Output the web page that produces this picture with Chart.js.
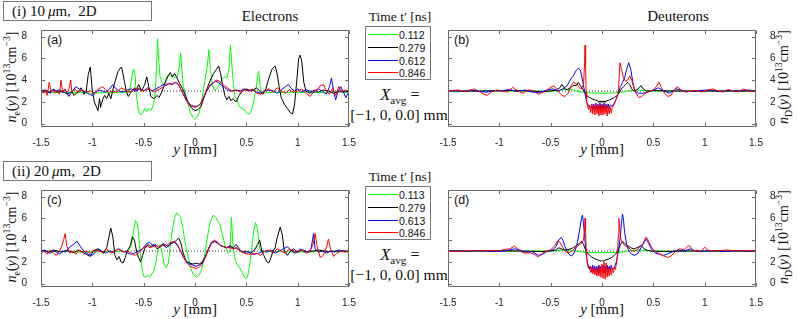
<!DOCTYPE html>
<html>
<head>
<meta charset="utf-8">
<script src="https://cdn.jsdelivr.net/npm/chart.js@4.4.1/dist/chart.umd.min.js"></script>
<style>
body{margin:0;width:797px;height:319px;background:#fff;position:relative;overflow:hidden;font-family:"Liberation Serif",serif;color:#111}
.a{position:absolute;white-space:nowrap;line-height:1}
canvas{position:absolute}
.box{position:absolute;border:1px solid #777;box-sizing:border-box;background:#fff}
.ttl{font-size:15px;transform:translate(-50%,-50%)}
.rot{font-size:14px;transform:translate(-50%,-50%) rotate(-90deg)}
.pl{font-family:"Liberation Sans",sans-serif;font-size:12.5px}
sub,sup{font-size:70%;line-height:0}
.lg{position:absolute;left:2px;width:30px;height:1px}
.lt{position:absolute;left:33px;font-family:"Liberation Sans",sans-serif;font-size:10.5px;line-height:1;transform:translateY(-50%)}
</style>
</head>
<body>
<!-- row 1 -->
<div class="box" style="left:3px;top:1px;width:149px;height:20px"></div>
<div class="a" style="left:12px;top:4px;font-size:15px">(i) 10&#8201;<i>μ</i>m,&nbsp; 2D</div>
<div class="a ttl" style="left:270px;top:16px">Electrons</div>
<div class="a ttl" style="left:678px;top:16px">Deuterons</div>
<div class="a ttl" style="left:400px;top:17px;font-size:13.5px">Time t′ [ns]</div>
<div class="box" id="leg1" style="left:365px;top:26px;width:66px;height:54px"></div>
<div class="a ttl" style="left:400px;top:95px;font-size:16px"><i>X</i><sub>avg</sub> =</div>
<div class="a ttl" style="left:399px;top:115px;font-size:15.5px">[−1, 0, 0.0] mm</div>
<div class="a pl" style="left:47px;top:34px">(a)</div>
<div class="a pl" style="left:454px;top:34px">(b)</div>
<div class="a ttl" style="left:195px;top:149px"><i>y</i> [mm]</div>
<div class="a ttl" style="left:602px;top:149px"><i>y</i> [mm]</div>
<div class="a rot" style="left:12px;top:77px"><i>n</i><sub>e</sub>(<i>y</i>) [10<sup>13</sup>cm<sup>−3</sup>]</div>
<div class="a rot" style="left:784px;top:77px"><i>n</i><sub>D</sub>(<i>y</i>) [10<sup>13</sup>cm<sup>−3</sup>]</div>
<!-- row 2 -->
<div class="box" style="left:3px;top:161px;width:149px;height:20px"></div>
<div class="a" style="left:12px;top:164px;font-size:15px">(ii) 20&#8201;<i>μ</i>m,&nbsp; 2D</div>
<div class="a ttl" style="left:400px;top:177px;font-size:13.5px">Time t′ [ns]</div>
<div class="box" id="leg2" style="left:365px;top:186px;width:66px;height:54px"></div>
<div class="a ttl" style="left:400px;top:255px;font-size:16px"><i>X</i><sub>avg</sub> =</div>
<div class="a ttl" style="left:399px;top:275px;font-size:15.5px">[−1, 0, 0.0] mm</div>
<div class="a pl" style="left:47px;top:194px">(c)</div>
<div class="a pl" style="left:454px;top:194px">(d)</div>
<div class="a ttl" style="left:195px;top:309px"><i>y</i> [mm]</div>
<div class="a ttl" style="left:602px;top:309px"><i>y</i> [mm]</div>
<div class="a rot" style="left:12px;top:237px"><i>n</i><sub>e</sub>(<i>y</i>) [10<sup>13</sup>cm<sup>−3</sup>]</div>
<div class="a rot" style="left:784px;top:237px"><i>n</i><sub>D</sub>(<i>y</i>) [10<sup>13</sup>cm<sup>−3</sup>]</div>

<canvas id="pa" width="350" height="131" style="left:11px;top:18px"></canvas>
<canvas id="pb" width="350" height="131" style="left:436px;top:18px"></canvas>
<canvas id="pc" width="350" height="131" style="left:11px;top:178px"></canvas>
<canvas id="pd" width="350" height="131" style="left:436px;top:178px"></canvas>

<script>
const xTicks = [-1.5, -1, -0.5, 0, 0.5, 1, 1.5];
const yTicks = [0, 2, 4, 6, 8];
const times1 = ['0.112', '0.279', '0.612', '0.846'];
const times2 = ['0.113', '0.279', '0.613', '0.846'];
const colors = ['#00ff00', '#000000', '#0000ff', '#ff0000'];
const refLine = [[-1.5, 3], [1.5, 3]];

// (a) electrons, 10 um
const aGreen = [[-1.5,2.9],[-1.4,2.85],[-1.3,2.9],[-1.2,2.85],[-1.1,2.85],[-1.0,2.8],[-0.9,2.85],[-0.8,2.85],[-0.7,2.9],[-0.64,2.9],[-0.62,4.0],[-0.60,5.0],[-0.585,4.6],[-0.57,2.5],[-0.55,1.2],[-0.53,0.8],[-0.51,1.0],[-0.49,1.4],[-0.47,1.1],[-0.45,1.4],[-0.43,1.2],[-0.41,1.6],[-0.39,2.5],[-0.375,5.0],[-0.365,7.8],[-0.355,6.0],[-0.34,4.3],[-0.32,3.8],[-0.30,3.5],[-0.28,4.2],[-0.26,4.5],[-0.24,4.3],[-0.22,4.4],[-0.20,4.2],[-0.17,4.3],[-0.15,5.5],[-0.14,6.5],[-0.13,5.3],[-0.115,3.5],[-0.10,3.0],[-0.08,2.2],[-0.06,1.5],[-0.04,0.9],[-0.02,0.6],[0,0.4],[0.02,0.6],[0.04,1.0],[0.06,1.8],[0.08,3.0],[0.10,4.2],[0.12,5.3],[0.135,6.8],[0.15,5.0],[0.17,3.5],[0.19,3.1],[0.21,3.2],[0.23,3.5],[0.26,4.0],[0.29,4.3],[0.31,4.2],[0.33,5.0],[0.345,7.2],[0.36,5.3],[0.375,3.5],[0.39,2.5],[0.41,2.2],[0.43,1.6],[0.46,1.4],[0.49,1.2],[0.51,0.9],[0.53,0.9],[0.55,1.2],[0.57,2.0],[0.59,3.0],[0.61,4.3],[0.62,4.8],[0.635,3.5],[0.65,2.8],[0.7,2.85],[0.8,2.9],[0.9,2.85],[1.0,2.85],[1.1,2.9],[1.2,2.85],[1.35,2.9],[1.5,2.9]];
const aBlack = [[-1.5,3.0],[-1.46,3.1],[-1.42,2.9],[-1.38,3.1],[-1.34,2.9],[-1.3,3.0],[-1.26,2.8],[-1.24,2.7],[-1.2,3.0],[-1.18,2.6],[-1.14,2.9],[-1.11,3.3],[-1.08,2.7],[-1.06,3.0],[-1.04,4.5],[-1.02,5.2],[-1.0,3.0],[-0.98,2.0],[-0.945,1.2],[-0.93,2.3],[-0.92,1.5],[-0.9,2.2],[-0.88,2.6],[-0.86,2.3],[-0.84,2.8],[-0.82,2.3],[-0.79,3.5],[-0.75,4.8],[-0.72,5.2],[-0.71,5.0],[-0.69,4.0],[-0.67,3.0],[-0.65,2.5],[-0.63,2.8],[-0.61,3.0],[-0.59,3.3],[-0.57,3.0],[-0.55,3.6],[-0.52,3.0],[-0.49,3.6],[-0.47,4.3],[-0.45,3.4],[-0.43,2.5],[-0.4,2.3],[-0.37,2.6],[-0.35,2.4],[-0.32,3.0],[-0.29,3.8],[-0.26,4.4],[-0.24,4.7],[-0.22,4.3],[-0.2,4.6],[-0.18,4.3],[-0.15,3.7],[-0.12,3.2],[-0.09,2.5],[-0.06,1.8],[-0.03,1.4],[0,1.2],[0.03,1.3],[0.06,1.6],[0.09,2.5],[0.12,3.3],[0.15,4.0],[0.18,4.6],[0.21,5.0],[0.23,5.3],[0.25,4.6],[0.27,3.5],[0.29,2.6],[0.31,2.2],[0.33,2.5],[0.35,2.1],[0.37,2.3],[0.4,2.0],[0.43,2.6],[0.46,3.0],[0.5,3.2],[0.55,3.0],[0.6,3.3],[0.63,3.0],[0.66,2.7],[0.69,3.2],[0.72,4.2],[0.75,5.0],[0.78,5.3],[0.8,4.6],[0.82,3.4],[0.84,2.4],[0.87,1.8],[0.9,1.4],[0.93,1.0],[0.95,0.9],[0.97,1.8],[0.99,3.8],[1.01,6.0],[1.025,6.3],[1.04,5.7],[1.06,3.8],[1.08,3.0],[1.12,2.8],[1.16,3.1],[1.2,2.9],[1.25,3.1],[1.3,3.0],[1.35,2.8],[1.4,3.0],[1.45,2.9],[1.5,3.0]];
const aBlue = [[-1.5,3.1],[-1.47,2.9],[-1.44,3.0],[-1.41,2.8],[-1.38,3.2],[-1.35,3.0],[-1.32,3.1],[-1.29,2.9],[-1.26,3.1],[-1.23,2.5],[-1.2,2.9],[-1.16,3.4],[-1.13,3.2],[-1.1,3.0],[-1.06,2.9],[-1.03,2.7],[-1.0,2.6],[-0.97,2.8],[-0.94,3.1],[-0.9,3.0],[-0.87,2.9],[-0.83,3.2],[-0.8,3.6],[-0.77,3.2],[-0.74,3.0],[-0.7,2.9],[-0.66,3.1],[-0.62,3.2],[-0.58,3.0],[-0.54,3.2],[-0.5,3.0],[-0.46,3.3],[-0.42,3.0],[-0.38,3.2],[-0.34,3.4],[-0.31,3.6],[-0.28,3.5],[-0.25,3.7],[-0.22,3.6],[-0.19,3.8],[-0.16,3.6],[-0.13,3.0],[-0.1,2.5],[-0.07,2.0],[-0.04,1.7],[-0.01,1.6],[0.02,1.6],[0.05,1.8],[0.08,2.3],[0.11,2.9],[0.14,3.4],[0.17,3.7],[0.2,3.9],[0.23,3.8],[0.26,3.5],[0.29,3.3],[0.32,3.1],[0.36,3.0],[0.4,3.1],[0.44,3.0],[0.48,3.2],[0.52,3.0],[0.56,3.1],[0.6,2.9],[0.64,2.8],[0.68,3.0],[0.72,3.1],[0.76,3.0],[0.8,2.8],[0.84,3.1],[0.88,3.4],[0.91,3.6],[0.94,3.2],[0.97,3.0],[1.0,3.2],[1.04,2.9],[1.08,3.1],[1.12,3.0],[1.16,2.9],[1.2,3.2],[1.24,3.0],[1.28,2.7],[1.31,3.4],[1.33,4.2],[1.35,3.0],[1.37,2.2],[1.39,2.9],[1.42,3.4],[1.45,2.8],[1.47,2.4],[1.5,3.0]];
const aRed = [[-1.5,3.0],[-1.48,2.8],[-1.46,3.1],[-1.44,2.6],[-1.42,3.8],[-1.40,2.9],[-1.38,3.1],[-1.36,2.8],[-1.34,3.0],[-1.32,2.7],[-1.305,4.0],[-1.29,2.9],[-1.27,3.2],[-1.25,2.9],[-1.23,3.1],[-1.21,4.0],[-1.20,2.9],[-1.17,3.2],[-1.14,2.9],[-1.1,3.1],[-1.06,2.9],[-1.02,3.0],[-0.98,2.8],[-0.94,3.2],[-0.9,3.4],[-0.87,3.1],[-0.84,2.9],[-0.8,3.0],[-0.76,2.9],[-0.72,3.3],[-0.68,3.1],[-0.64,2.9],[-0.6,3.1],[-0.56,3.3],[-0.52,3.0],[-0.48,3.1],[-0.44,3.2],[-0.4,2.9],[-0.36,3.1],[-0.32,3.3],[-0.29,3.6],[-0.26,3.7],[-0.23,3.6],[-0.2,3.8],[-0.17,3.7],[-0.15,3.4],[-0.12,2.8],[-0.09,2.2],[-0.06,1.8],[-0.03,1.6],[0,1.5],[0.03,1.6],[0.06,1.9],[0.09,2.6],[0.12,3.2],[0.15,3.6],[0.18,3.8],[0.21,4.0],[0.24,3.9],[0.27,3.6],[0.3,3.4],[0.33,3.2],[0.36,3.0],[0.4,3.1],[0.44,2.9],[0.48,3.1],[0.52,3.0],[0.56,3.2],[0.6,2.8],[0.64,2.7],[0.68,3.0],[0.72,3.2],[0.76,2.9],[0.8,3.3],[0.84,3.0],[0.88,2.8],[0.92,3.1],[0.96,2.9],[1.0,3.0],[1.04,3.2],[1.08,2.8],[1.12,2.5],[1.16,3.0],[1.2,3.2],[1.22,3.5],[1.25,3.6],[1.28,3.0],[1.31,2.7],[1.34,3.3],[1.37,2.6],[1.4,3.4],[1.43,2.9],[1.46,3.1],[1.5,3.0]];

// (b) deuterons, 10 um
const bGreen = [[-1.5,3.0],[-1.0,3.0],[-0.6,3.0],[-0.5,2.95],[-0.42,3.05],[-0.36,3.15],[-0.32,3.2],[-0.28,3.1],[-0.24,3.0],[-0.2,2.9],[-0.15,2.85],[-0.1,2.82],[0,2.8],[0.1,2.82],[0.15,2.85],[0.2,2.9],[0.25,3.0],[0.3,3.05],[0.35,3.1],[0.4,3.05],[0.5,3.0],[1.0,3.0],[1.5,3.0]];
const bBlack = [[-1.5,3.0],[-1.2,3.0],[-0.9,3.05],[-0.7,3.0],[-0.6,2.95],[-0.5,3.0],[-0.45,3.1],[-0.41,3.3],[-0.39,3.6],[-0.37,3.3],[-0.34,3.1],[-0.31,3.3],[-0.28,3.5],[-0.25,3.5],[-0.23,3.8],[-0.21,3.5],[-0.19,3.2],[-0.17,2.9],[-0.15,2.6],[-0.12,2.4],[-0.09,2.25],[-0.06,2.15],[-0.04,2.1],[-0.03,1.95],[-0.02,2.1],[-0.01,1.95],[0,2.1],[0.01,1.95],[0.02,2.1],[0.03,1.95],[0.04,2.1],[0.06,2.15],[0.09,2.25],[0.12,2.4],[0.15,2.6],[0.17,2.9],[0.19,3.2],[0.21,3.4],[0.23,3.6],[0.25,3.8],[0.27,3.6],[0.29,3.2],[0.31,3.0],[0.34,3.1],[0.36,3.3],[0.38,3.5],[0.40,3.2],[0.43,3.0],[0.5,3.05],[0.7,3.0],[1.0,3.0],[1.5,3.0]];
const bBlue = [[-1.5,3.0],[-1.42,3.05],[-1.35,2.95],[-1.28,3.1],[-1.2,2.95],[-1.12,2.9],[-1.05,3.05],[-0.98,3.0],[-0.9,3.15],[-0.83,2.95],[-0.75,3.1],[-0.68,2.9],[-0.62,2.85],[-0.55,3.05],[-0.48,3.2],[-0.43,3.0],[-0.38,3.2],[-0.34,3.5],[-0.31,4.0],[-0.28,4.4],[-0.25,4.9],[-0.23,5.1],[-0.21,4.9],[-0.19,4.0],[-0.17,3.0],[-0.15,2.0],[-0.13,1.6],[-0.11,1.4],[-0.1,1.8],[-0.09,1.3],[-0.08,1.8],[-0.07,1.3],[-0.06,1.9],[-0.05,1.2],[-0.04,1.8],[-0.03,1.3],[-0.02,1.9],[-0.01,1.3],[0,1.8],[0.01,1.3],[0.02,1.9],[0.03,1.3],[0.04,1.8],[0.05,1.4],[0.06,1.8],[0.07,1.4],[0.08,1.7],[0.1,1.6],[0.12,1.9],[0.14,2.3],[0.16,2.9],[0.18,3.4],[0.2,3.8],[0.22,4.2],[0.24,5.0],[0.26,5.6],[0.28,5.0],[0.3,3.8],[0.32,3.0],[0.35,2.8],[0.4,2.8],[0.45,2.9],[0.5,3.1],[0.55,3.3],[0.6,3.0],[0.66,2.8],[0.72,3.2],[0.8,3.0],[0.88,2.95],[0.95,3.05],[1.05,3.1],[1.15,2.95],[1.25,3.05],[1.35,3.0],[1.42,3.1],[1.5,3.0]];
const bRed = [[-1.5,3.0],[-1.45,3.05],[-1.4,3.1],[-1.35,2.95],[-1.3,3.0],[-1.25,3.2],[-1.2,3.0],[-1.15,2.7],[-1.12,2.6],[-1.08,2.9],[-1.02,3.1],[-0.97,3.0],[-0.92,2.9],[-0.87,3.35],[-0.82,3.0],[-0.77,2.8],[-0.72,3.1],[-0.67,3.05],[-0.62,2.7],[-0.57,2.9],[-0.52,3.2],[-0.47,3.5],[-0.43,3.0],[-0.39,2.6],[-0.36,2.5],[-0.33,2.8],[-0.3,3.5],[-0.28,3.8],[-0.26,3.7],[-0.24,3.6],[-0.22,3.3],[-0.2,3.2],[-0.18,3.6],[-0.17,5.5],[-0.165,7.2],[-0.16,5.5],[-0.155,3.0],[-0.15,2.0],[-0.14,1.6],[-0.13,1.3],[-0.12,1.7],[-0.11,1.0],[-0.1,1.8],[-0.09,0.9],[-0.08,1.7],[-0.07,0.8],[-0.06,1.8],[-0.05,0.9],[-0.04,1.7],[-0.03,0.7],[-0.02,1.8],[-0.01,0.8],[0,1.7],[0.01,0.8],[0.02,1.8],[0.03,0.9],[0.04,1.7],[0.05,0.7],[0.06,1.6],[0.07,0.9],[0.08,1.5],[0.09,1.0],[0.1,1.5],[0.12,1.8],[0.14,2.3],[0.16,3.0],[0.175,5.6],[0.19,5.0],[0.21,4.2],[0.23,3.9],[0.25,4.0],[0.27,4.4],[0.29,4.0],[0.31,3.3],[0.33,2.8],[0.36,2.4],[0.39,2.5],[0.42,2.8],[0.46,3.0],[0.5,3.1],[0.53,3.4],[0.555,3.8],[0.58,3.3],[0.61,2.8],[0.64,2.5],[0.67,2.6],[0.7,3.0],[0.73,3.4],[0.77,3.1],[0.82,2.9],[0.87,3.0],[0.92,3.05],[0.97,2.9],[1.03,3.1],[1.08,3.2],[1.13,3.0],[1.18,2.9],[1.23,3.15],[1.28,3.0],[1.33,2.95],[1.38,3.2],[1.43,3.0],[1.5,3.0]];

// (c) electrons, 20 um
const cGreen = [[-1.5,2.95],[-1.3,2.95],[-1.1,2.9],[-0.9,2.95],[-0.7,2.95],[-0.65,3.0],[-0.62,3.5],[-0.6,4.8],[-0.58,5.8],[-0.56,5.5],[-0.54,3.5],[-0.52,1.5],[-0.5,0.7],[-0.48,0.6],[-0.46,0.8],[-0.44,0.6],[-0.42,0.9],[-0.4,1.2],[-0.38,2.0],[-0.36,3.2],[-0.34,3.6],[-0.32,2.8],[-0.3,1.8],[-0.28,1.5],[-0.26,1.9],[-0.24,3.5],[-0.22,5.0],[-0.2,6.0],[-0.18,6.5],[-0.16,6.3],[-0.14,6.1],[-0.12,5.2],[-0.1,4.0],[-0.08,3.0],[-0.06,2.2],[-0.04,1.4],[-0.02,0.9],[0,0.7],[0.02,0.6],[0.04,0.8],[0.06,1.2],[0.08,1.9],[0.1,3.0],[0.12,4.2],[0.14,5.3],[0.16,6.0],[0.18,6.3],[0.2,6.1],[0.22,5.8],[0.24,5.5],[0.26,4.8],[0.28,4.0],[0.3,3.3],[0.32,2.8],[0.34,3.0],[0.355,6.1],[0.37,3.5],[0.39,2.2],[0.41,1.8],[0.43,1.5],[0.45,1.2],[0.47,0.8],[0.49,0.5],[0.51,0.6],[0.53,1.5],[0.55,3.0],[0.57,4.8],[0.59,5.6],[0.61,5.0],[0.63,3.2],[0.66,2.95],[0.8,2.95],[1.0,2.9],[1.2,2.95],[1.5,2.95]];
const cBlack = [[-1.5,3.0],[-1.46,3.05],[-1.42,2.9],[-1.38,3.1],[-1.34,3.0],[-1.3,2.9],[-1.26,3.05],[-1.22,3.0],[-1.18,2.85],[-1.14,3.1],[-1.1,2.9],[-1.06,2.7],[-1.02,2.5],[-0.99,3.0],[-0.95,3.2],[-0.92,3.0],[-0.89,2.8],[-0.86,3.3],[-0.84,4.2],[-0.82,5.1],[-0.8,4.3],[-0.78,2.6],[-0.76,2.2],[-0.74,2.5],[-0.72,2.0],[-0.7,1.9],[-0.68,2.4],[-0.66,3.0],[-0.63,3.5],[-0.61,4.3],[-0.59,4.0],[-0.57,3.0],[-0.55,2.4],[-0.53,2.0],[-0.51,2.6],[-0.49,3.2],[-0.46,3.6],[-0.43,3.4],[-0.4,3.6],[-0.37,3.2],[-0.34,3.4],[-0.31,3.7],[-0.28,3.3],[-0.25,3.6],[-0.22,3.8],[-0.19,3.9],[-0.16,4.2],[-0.14,3.8],[-0.12,3.0],[-0.1,2.4],[-0.08,2.0],[-0.05,1.9],[-0.02,1.8],[0.01,1.9],[0.04,1.8],[0.07,2.0],[0.1,2.5],[0.13,3.2],[0.16,3.7],[0.19,3.9],[0.22,3.8],[0.25,3.5],[0.28,3.4],[0.31,3.3],[0.34,3.5],[0.37,3.3],[0.4,3.6],[0.43,3.2],[0.46,2.9],[0.5,3.0],[0.54,2.8],[0.58,3.1],[0.61,3.6],[0.63,4.0],[0.65,3.0],[0.67,2.6],[0.7,2.0],[0.72,1.9],[0.74,2.4],[0.76,3.0],[0.78,3.3],[0.8,4.2],[0.83,5.2],[0.85,4.5],[0.87,3.0],[0.9,2.6],[0.93,3.0],[0.96,3.2],[1.0,2.9],[1.05,3.1],[1.1,2.9],[1.15,3.0],[1.2,3.1],[1.3,2.95],[1.4,3.0],[1.5,3.0]];
const cBlue = [[-1.5,2.9],[-1.47,3.1],[-1.44,2.9],[-1.41,2.8],[-1.38,3.0],[-1.35,2.9],[-1.32,2.7],[-1.29,3.0],[-1.26,2.9],[-1.23,3.3],[-1.2,3.5],[-1.17,3.7],[-1.15,3.9],[-1.13,3.6],[-1.1,3.2],[-1.07,2.9],[-1.04,2.7],[-1.0,2.6],[-0.97,2.9],[-0.94,3.2],[-0.91,3.0],[-0.87,2.8],[-0.83,3.0],[-0.79,2.9],[-0.75,3.2],[-0.71,3.0],[-0.67,2.9],[-0.63,2.7],[-0.59,2.8],[-0.55,3.0],[-0.51,3.2],[-0.47,3.7],[-0.44,3.8],[-0.41,3.5],[-0.38,3.6],[-0.35,3.3],[-0.32,3.5],[-0.29,3.6],[-0.26,3.4],[-0.23,3.7],[-0.2,3.8],[-0.17,3.5],[-0.14,3.0],[-0.11,2.4],[-0.08,2.0],[-0.05,1.8],[-0.02,1.7],[0.01,1.6],[0.04,1.7],[0.07,1.9],[0.1,2.4],[0.13,3.1],[0.16,3.7],[0.19,3.9],[0.22,3.7],[0.25,3.5],[0.28,3.4],[0.31,3.3],[0.34,3.4],[0.37,3.2],[0.4,3.3],[0.43,3.1],[0.46,2.9],[0.5,2.8],[0.54,2.9],[0.58,2.7],[0.62,2.8],[0.66,3.0],[0.7,2.9],[0.74,3.1],[0.78,2.8],[0.82,3.0],[0.86,3.2],[0.9,3.4],[0.94,3.0],[0.98,2.8],[1.02,3.2],[1.06,3.0],[1.1,2.9],[1.13,3.2],[1.155,4.6],[1.17,3.2],[1.2,2.9],[1.24,3.0],[1.28,2.8],[1.32,3.0],[1.36,2.9],[1.4,3.1],[1.45,3.0],[1.5,2.9]];
const cRed = [[-1.5,2.8],[-1.47,3.0],[-1.44,2.7],[-1.41,3.1],[-1.38,2.8],[-1.35,2.6],[-1.32,3.0],[-1.3,3.4],[-1.28,4.0],[-1.265,4.6],[-1.25,3.5],[-1.22,2.8],[-1.19,3.0],[-1.16,2.7],[-1.13,3.1],[-1.1,2.9],[-1.06,3.0],[-1.02,2.8],[-0.98,3.1],[-0.94,3.0],[-0.9,2.9],[-0.86,3.2],[-0.82,2.8],[-0.78,3.0],[-0.74,3.2],[-0.7,2.9],[-0.66,3.0],[-0.62,2.8],[-0.58,2.6],[-0.54,2.9],[-0.5,3.3],[-0.47,3.5],[-0.44,3.3],[-0.41,3.4],[-0.38,3.5],[-0.35,3.3],[-0.32,3.6],[-0.29,3.4],[-0.26,3.7],[-0.23,3.8],[-0.2,3.9],[-0.17,3.6],[-0.14,3.0],[-0.11,2.4],[-0.08,1.9],[-0.05,1.6],[-0.02,1.5],[0.01,1.4],[0.04,1.5],[0.07,1.8],[0.1,2.4],[0.13,3.2],[0.16,3.8],[0.19,4.0],[0.22,3.8],[0.25,3.5],[0.28,3.4],[0.31,3.3],[0.34,3.3],[0.37,3.2],[0.4,3.3],[0.44,3.0],[0.48,2.8],[0.52,2.7],[0.56,2.7],[0.6,2.8],[0.64,2.6],[0.68,3.0],[0.72,3.1],[0.76,2.8],[0.8,3.2],[0.84,3.0],[0.88,2.8],[0.92,3.2],[0.96,3.0],[1.0,2.9],[1.04,3.1],[1.08,2.8],[1.12,3.0],[1.15,3.6],[1.17,4.6],[1.19,3.4],[1.22,2.4],[1.25,2.6],[1.28,3.3],[1.3,4.1],[1.32,3.2],[1.35,2.5],[1.38,2.8],[1.42,3.0],[1.46,2.9],[1.5,3.0]];

// (d) deuterons, 20 um
const dGreen = [[-1.5,3.0],[-1.0,3.0],[-0.6,3.0],[-0.5,3.0],[-0.42,3.05],[-0.36,3.1],[-0.3,3.05],[-0.25,3.0],[-0.2,2.92],[-0.15,2.88],[-0.1,2.86],[0,2.85],[0.1,2.86],[0.15,2.88],[0.2,2.92],[0.25,3.0],[0.3,3.05],[0.36,3.1],[0.42,3.05],[0.5,3.0],[1.0,3.0],[1.5,3.0]];
const dBlack = [[-1.5,3.0],[-1.2,3.0],[-1.0,3.02],[-0.8,3.0],[-0.6,2.95],[-0.5,3.0],[-0.45,3.1],[-0.42,3.3],[-0.4,3.2],[-0.36,3.1],[-0.32,3.15],[-0.28,3.3],[-0.25,3.5],[-0.22,3.7],[-0.2,3.9],[-0.18,3.6],[-0.16,3.1],[-0.14,2.8],[-0.12,2.6],[-0.1,2.45],[-0.08,2.35],[-0.06,2.25],[-0.04,2.18],[-0.02,2.12],[-0.01,2.05],[0,2.15],[0.01,2.05],[0.02,2.12],[0.04,2.18],[0.06,2.25],[0.08,2.35],[0.1,2.45],[0.12,2.6],[0.14,2.8],[0.16,3.1],[0.18,3.6],[0.2,3.9],[0.22,3.7],[0.25,3.5],[0.28,3.3],[0.31,3.2],[0.34,3.3],[0.36,3.4],[0.38,3.5],[0.4,3.3],[0.43,3.1],[0.48,3.0],[0.6,2.95],[0.8,3.0],[1.0,3.0],[1.5,3.0]];
const dBlue = [[-1.5,3.0],[-1.35,3.0],[-1.2,3.05],[-1.05,2.95],[-0.95,3.0],[-0.85,3.2],[-0.8,3.1],[-0.75,2.9],[-0.68,2.95],[-0.62,2.6],[-0.58,2.7],[-0.53,3.0],[-0.48,3.1],[-0.45,3.4],[-0.42,4.0],[-0.4,4.25],[-0.38,4.0],[-0.36,3.4],[-0.33,2.8],[-0.3,2.55],[-0.28,2.7],[-0.26,3.1],[-0.24,3.8],[-0.22,4.8],[-0.2,6.0],[-0.19,6.3],[-0.18,5.5],[-0.17,4.5],[-0.16,3.3],[-0.15,2.4],[-0.14,1.9],[-0.13,1.5],[-0.12,1.3],[-0.11,1.6],[-0.1,1.1],[-0.09,1.7],[-0.08,1.1],[-0.07,1.6],[-0.06,1.0],[-0.05,1.6],[-0.04,1.0],[-0.03,1.7],[-0.02,1.0],[-0.01,1.6],[0,1.1],[0.01,1.7],[0.02,1.0],[0.03,1.6],[0.04,1.1],[0.05,1.7],[0.06,1.1],[0.07,1.6],[0.08,1.2],[0.09,1.7],[0.1,1.3],[0.12,1.5],[0.14,2.0],[0.16,3.0],[0.18,4.5],[0.19,5.6],[0.2,6.4],[0.21,5.8],[0.22,4.7],[0.24,3.6],[0.26,3.0],[0.29,2.7],[0.32,2.6],[0.35,2.8],[0.38,3.3],[0.41,3.8],[0.43,4.1],[0.45,3.8],[0.48,3.2],[0.52,2.8],[0.56,2.7],[0.6,2.6],[0.64,2.75],[0.68,2.9],[0.74,3.1],[0.8,3.0],[0.86,3.2],[0.9,3.05],[0.95,2.95],[1.0,3.0],[1.1,3.05],[1.2,2.95],[1.3,3.05],[1.4,3.0],[1.5,3.0]];
const dRed = [[-1.5,3.0],[-1.4,2.95],[-1.3,3.05],[-1.2,3.0],[-1.1,3.05],[-1.0,3.0],[-0.95,3.15],[-0.9,3.2],[-0.85,3.45],[-0.8,3.0],[-0.75,2.8],[-0.7,2.85],[-0.66,2.7],[-0.62,2.45],[-0.58,2.8],[-0.54,3.0],[-0.5,3.1],[-0.46,3.5],[-0.43,3.95],[-0.41,3.8],[-0.38,3.3],[-0.35,2.9],[-0.32,2.85],[-0.29,3.0],[-0.26,3.3],[-0.23,3.5],[-0.2,3.7],[-0.18,4.0],[-0.17,5.0],[-0.165,6.0],[-0.16,5.0],[-0.155,3.2],[-0.15,2.3],[-0.14,1.7],[-0.13,1.4],[-0.12,1.6],[-0.11,1.0],[-0.1,1.5],[-0.09,0.9],[-0.08,1.5],[-0.07,0.8],[-0.06,1.4],[-0.05,0.7],[-0.04,1.4],[-0.03,0.7],[-0.02,1.6],[-0.01,0.6],[0,1.8],[0.01,0.5],[0.02,2.0],[0.03,0.4],[0.04,1.9],[0.05,0.6],[0.06,1.5],[0.07,0.7],[0.08,1.4],[0.09,0.8],[0.1,1.4],[0.11,1.0],[0.12,1.5],[0.13,1.3],[0.14,1.8],[0.15,2.6],[0.16,4.5],[0.165,6.0],[0.17,5.5],[0.18,4.2],[0.2,3.8],[0.22,3.5],[0.25,3.4],[0.28,3.1],[0.31,2.95],[0.34,3.1],[0.37,3.4],[0.4,3.7],[0.43,4.3],[0.45,4.0],[0.48,3.4],[0.51,3.0],[0.55,2.8],[0.6,2.55],[0.64,2.4],[0.68,2.6],[0.72,3.0],[0.76,3.2],[0.8,3.1],[0.84,3.5],[0.86,3.4],[0.89,3.0],[0.93,3.1],[0.96,2.9],[1.0,3.35],[1.03,3.1],[1.08,3.0],[1.15,3.05],[1.22,3.1],[1.3,3.0],[1.4,3.05],[1.5,3.0]];

const tickFont = { family: 'Liberation Sans', size: 10 };

// box around each axes + inward tick marks on all four sides
const framePlugin = {
  id: 'frame',
  afterDatasetsDraw(chart) {
    const { ctx, chartArea: a, scales: { x, y } } = chart;
    const L = Math.round(a.left) + 0.5, R = Math.round(a.right) - 0.5;
    const T = Math.round(a.top) + 0.5, B = Math.round(a.bottom) - 0.5;
    ctx.save();
    ctx.strokeStyle = '#6a6a6a';
    ctx.lineWidth = 1;
    ctx.beginPath();
    ctx.rect(L, T, R - L, B - T);
    xTicks.forEach(v => {
      const px = Math.round(x.getPixelForValue(v)) + 0.5;
      ctx.moveTo(px, B); ctx.lineTo(px, B - 3.5);
      ctx.moveTo(px, T); ctx.lineTo(px, T + 3.5);
    });
    yTicks.forEach(v => {
      const py = Math.round(y.getPixelForValue(v)) + 0.5;
      ctx.moveTo(L, py); ctx.lineTo(L + 3.5, py);
      ctx.moveTo(R, py); ctx.lineTo(R - 3.5, py);
    });
    ctx.stroke();
    ctx.restore();
  }
};

function pts(arr) { return arr.map(p => ({ x: p[0], y: p[1] })); }

function panel(id, series, side) {
  // red drawn on top, then blue, black, green
  const sets = [3, 2, 1, 0].map(i => ({
    data: pts(series[i]),
    borderColor: colors[i],
    borderWidth: 1,
    pointRadius: 0,
    tension: 0
  }));
  sets.push({
    data: pts(refLine),
    borderColor: '#333',
    borderWidth: 1,
    borderDash: [1, 2],
    pointRadius: 0
  });
  new Chart(document.getElementById(id), {
    type: 'line',
    data: { datasets: sets },
    options: {
      responsive: false,
      animation: false,
      devicePixelRatio: 1,
      layout: { padding: side === 'left' ? { top: 8, right: 12 } : { top: 8, left: 12 } },
      plugins: { legend: { display: false }, tooltip: { enabled: false } },
      scales: {
        x: {
          type: 'linear', min: -1.5, max: 1.5,
          afterBuildTicks: s => { s.ticks = xTicks.map(v => ({ value: v })); },
          afterFit: s => { s.height = 22; },
          grid: { display: false }, border: { display: false },
          ticks: { padding: 2, color: '#222', font: tickFont, maxRotation: 0, autoSkip: false, callback: v => String(v) }
        },
        y: {
          type: 'linear', position: side, min: -0.3, max: 8.6,
          afterBuildTicks: s => { s.ticks = yTicks.map(v => ({ value: v })); },
          afterFit: s => { s.width = 30; },
          grid: { display: false }, border: { display: false },
          ticks: { padding: 6, color: '#222', font: tickFont, callback: v => String(v) }
        }
      }
    },
    plugins: [framePlugin]
  });
}

panel('pa', [aGreen, aBlack, aBlue, aRed], 'left');
panel('pb', [bGreen, bBlack, bBlue, bRed], 'right');
panel('pc', [cGreen, cBlack, cBlue, cRed], 'left');
panel('pd', [dGreen, dBlack, dBlue, dRed], 'right');

// legends
function legend(id, labels) {
  const box = document.getElementById(id);
  const rows = [7, 20, 33, 45];
  labels.forEach((t, i) => {
    const ln = document.createElement('div');
    ln.className = 'lg';
    ln.style.top = rows[i] + 'px';
    ln.style.background = colors[i];
    box.appendChild(ln);
    const tx = document.createElement('div');
    tx.className = 'lt';
    tx.style.top = (rows[i] + 0.5) + 'px';
    tx.textContent = t;
    box.appendChild(tx);
  });
}
legend('leg1', times1);
legend('leg2', times2);
</script>
</body>
</html>
